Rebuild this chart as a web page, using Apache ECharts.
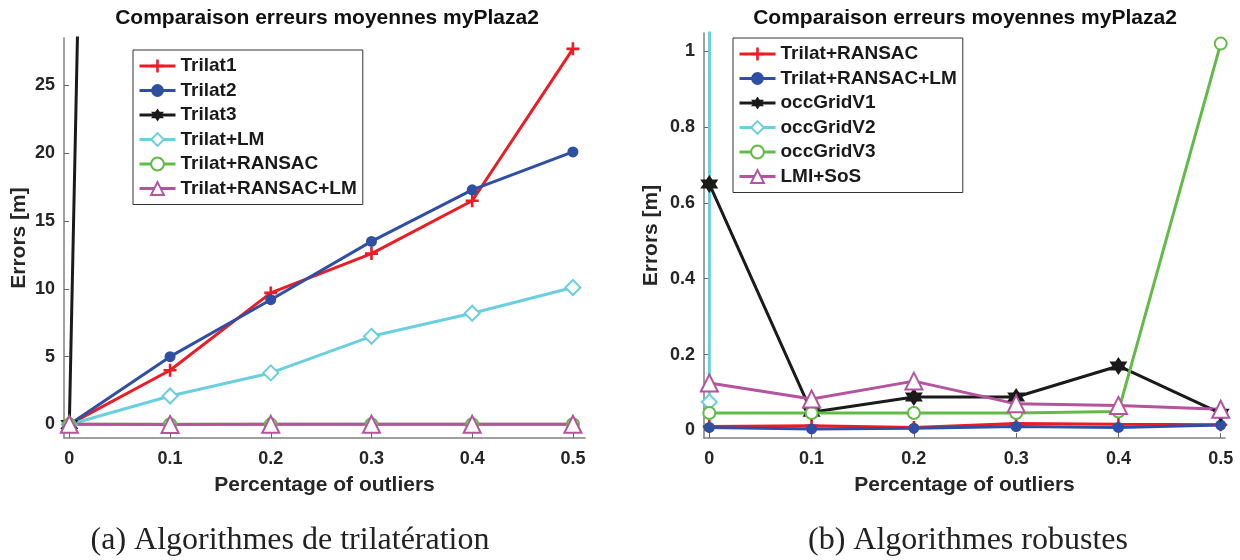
<!DOCTYPE html>
<html>
<head>
<meta charset="utf-8">
<script src="https://cdn.jsdelivr.net/npm/echarts@6/dist/echarts.min.js"></script>
<style>
  html, body { margin: 0; padding: 0; background: #fff; }
  #main { width: 1240px; height: 560px; }
</style>
</head>
<body>
<div id="main"></div>
<script>
// x values (percentage of outliers)
var outliers = [0, 0.1, 0.2, 0.3, 0.4, 0.5]
var xTicks = [0, 0.1, 0.2, 0.3, 0.4, 0.5]
var yTicksA = [0, 5, 10, 15, 20, 25]
var yTicksB = [0, 0.2, 0.4, 0.6, 0.8, 1]

// (a) trilateration
var trilat1 = [0, 4.0, 9.7, 12.6, 16.5, 27.7]
var trilat2 = [0, 5.0, 9.2, 13.5, 17.3, 20.1]
var trilat3 = [0, 355, 610, 880, 1150, 1420]
var trilatLM = [0, 2.1, 3.8, 6.5, 8.2, 10.1]
var trilatRansac = [0.010, 0.012, 0.008, 0.018, 0.016, 0.015]
var trilatRansacLM = [0.008, 0.004, 0.006, 0.010, 0.008, 0.014]

// (b) robust
var occGridV1 = [0.65, 0.048, 0.088, 0.088, 0.17, 0.045]
var occGridV2 = [0.075, 420, 760, 1100, 1380, 1650]
var occGridV3 = [0.046, 0.046, 0.046, 0.046, 0.05, 1.02]
var lmiSos = [0.125, 0.083, 0.13, 0.07, 0.066, 0.056]

var RED = '#ec1c24', BLUE = '#2e4fa3', BLACK = '#1a1a1a', CYAN = '#6acfdf', GREEN = '#62bb46', MAG = '#b5539f'
var TXT = '#262626'

// marker shapes
var plusPath = 'path://M4,0H6V4H10V6H6V10H4V6H0V4H4Z'
function hexagram () {
  var s = 'path://'
  for (var i = 0; i < 12; i++) {
    var a = (-90 + i * 30) * Math.PI / 180
    var r = i % 2 ? 0.58 : 1
    s += (i ? 'L' : 'M') + (r * Math.cos(a)).toFixed(3) + ',' + (r * Math.sin(a)).toFixed(3)
  }
  return s + 'Z'
}
var hexPath = hexagram()

function pts (arr) {
  return outliers.map(function (x, i) { return [x, arr[i]] })
}

function mkSeries (name, data, color, symbol, size, idx, bw) {
  return {
    name: name,
    type: 'line',
    xAxisIndex: idx,
    yAxisIndex: idx,
    data: pts(data),
    symbol: symbol,
    symbolSize: size,
    showAllSymbol: true,
    clip: true,
    lineStyle: { color: color, width: 3 },
    itemStyle: { color: color, borderColor: color, borderWidth: bw || 0 },
    emphasis: { disabled: true },
    animation: false
  }
}

function xAx (idx, min, max) {
  return {
    type: 'value', gridIndex: idx, min: min, max: max,
    name: 'Percentage of outliers', nameLocation: 'middle', nameGap: 37,
    nameTextStyle: { fontSize: 21, fontWeight: 'bold', color: TXT, fontFamily: 'Liberation Sans' },
    axisLine: { onZero: false, lineStyle: { color: '#808080', width: 1.5 } },
    axisTick: { inside: true, length: 5, customValues: xTicks, lineStyle: { color: '#666' } },
    axisLabel: { customValues: xTicks, margin: 12, fontSize: 18, fontWeight: 'bold', color: TXT, fontFamily: 'Liberation Sans',
      formatter: function (v) { return String(+v.toFixed(2)) } },
    splitLine: { show: false }
  }
}

function yAx (idx, min, max, ticks, gap) {
  return {
    type: 'value', gridIndex: idx, min: min, max: max,
    name: 'Errors [m]', nameLocation: 'middle', nameGap: gap, nameRotate: 90,
    nameTextStyle: { fontSize: 21, fontWeight: 'bold', color: TXT, fontFamily: 'Liberation Sans' },
    axisLine: { show: true, onZero: false, lineStyle: { color: '#808080', width: 1.5 } },
    axisTick: { show: true, inside: true, length: 5, customValues: ticks, lineStyle: { color: '#666' } },
    axisLabel: { customValues: ticks, margin: 9, fontSize: 18, fontWeight: 'bold', color: TXT, fontFamily: 'Liberation Sans',
      formatter: function (v) { return String(+v.toFixed(2)) } },
    splitLine: { show: false }
  }
}

function legendBox (idx, names, left, top) {
  return {
    data: names,
    orient: 'vertical',
    left: left, top: top,
    padding: [6, 6, 6, 5],
    itemWidth: 36, itemHeight: 16, itemGap: 4.5,
    borderColor: '#333', borderWidth: 1,
    backgroundColor: '#fff',
    selectedMode: false,
    lineStyle: { width: 3 },
    textStyle: { fontSize: 19, fontWeight: 'bold', color: '#1a1a1a', fontFamily: 'Liberation Sans', lineHeight: 20 },
    formatter: function (n) { return n.trim() }
  }
}

var chart = echarts.init(document.getElementById('main'), null, { renderer: 'canvas' })
chart.setOption({
  backgroundColor: '#fff',
  animation: false,
  grid: [
    { left: 64, top: 38, width: 521, height: 400, outerBoundsMode: 'none' },
    { left: 704, top: 33, width: 521, height: 405, outerBoundsMode: 'none' }
  ],
  xAxis: [xAx(0, -0.0053, 0.512), xAx(1, -0.0052, 0.5042)],
  yAxis: [yAx(0, -1.0, 28.5, yTicksA, 34), yAx(1, -0.02, 1.048, yTicksB, 42)],
  legend: [
    legendBox(0, ['Trilat1', 'Trilat2', 'Trilat3', 'Trilat+LM', 'Trilat+RANSAC', 'Trilat+RANSAC+LM'], 133, 50),
    legendBox(1, ['Trilat+RANSAC ', 'Trilat+RANSAC+LM ', 'occGridV1', 'occGridV2', 'occGridV3', 'LMI+SoS'], 733, 38)
  ],
  graphic: [
    { type: 'text', x: 327, y: 18, style: { text: 'Comparaison erreurs moyennes myPlaza2', align: 'center', verticalAlign: 'middle',
      font: 'bold 21px "Liberation Sans"', fill: '#111' } },
    { type: 'text', x: 965, y: 18, style: { text: 'Comparaison erreurs moyennes myPlaza2', align: 'center', verticalAlign: 'middle',
      font: 'bold 21px "Liberation Sans"', fill: '#111' } },
    { type: 'text', x: 290, y: 541, style: { text: '(a) Algorithmes de trilatération', align: 'center', verticalAlign: 'middle',
      font: '32px "Liberation Serif"', fill: '#222' } },
    { type: 'text', x: 968, y: 541, style: { text: '(b) Algorithmes robustes', align: 'center', verticalAlign: 'middle',
      font: '32px "Liberation Serif"', fill: '#222' } }
  ],
  series: [
    mkSeries('Trilat1', trilat1, RED, plusPath, 13, 0),
    mkSeries('Trilat2', trilat2, BLUE, 'circle', 11, 0),
    mkSeries('Trilat3', trilat3, BLACK, hexPath, 18, 0),
    mkSeries('Trilat+LM', trilatLM, CYAN, 'emptyDiamond', 15, 0, 2),
    mkSeries('Trilat+RANSAC', trilatRansac, GREEN, 'emptyCircle', 12, 0, 2.5),
    mkSeries('Trilat+RANSAC+LM', trilatRansacLM, MAG, 'emptyTriangle', 17, 0, 2.5),

    mkSeries('Trilat+RANSAC ', trilatRansac, RED, plusPath, 13, 1),
    mkSeries('Trilat+RANSAC+LM ', trilatRansacLM, BLUE, 'circle', 11, 1),
    mkSeries('occGridV1', occGridV1, BLACK, hexPath, 18, 1),
    mkSeries('occGridV2', occGridV2, CYAN, 'emptyDiamond', 15, 1, 2),
    mkSeries('occGridV3', occGridV3, GREEN, 'emptyCircle', 12, 1, 2.5),
    mkSeries('LMI+SoS', lmiSos, MAG, 'emptyTriangle', 17, 1, 2.5)
  ]
})
</script>
</body>
</html>
